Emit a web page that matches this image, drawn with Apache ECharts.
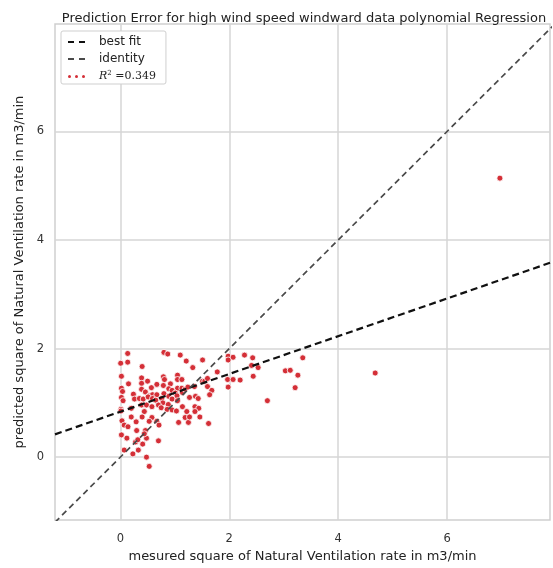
<!DOCTYPE html>
<html><head><meta charset="utf-8">
<script src="https://cdn.jsdelivr.net/npm/echarts@6/dist/echarts.min.js"></script>
<style>html,body{margin:0;padding:0;background:#fff}#c{width:553px;height:568px}</style>
</head><body><div id="c"></div>
<script>
const titleText = 'Prediction Error for high wind speed windward data polynomial Regression';
const xAxisName = 'mesured square of Natural Ventilation rate in m3/min';
const yAxisName = 'predicted square of Natural Ventilation rate in m3/min';
const xTicks = [0, 2, 4, 6];
const yTicks = [0, 2, 4, 6];
const xRange = [-1.2, 7.89];
const yRange = [-1.16, 7.98];
const measured = [
0.135,0.80,0.87,1.10,0.006,0.135,0.40,1.21,1.51,1.33,1.98,2.07,1.98,
0.02,0.15,0.39,0.50,0.39,0.79,0.81,1.05,1.05,1.13,0.92,0.67,0.79,1.05,1.13,0.02,0.04,0.24,0.39,0.57,0.46,0.53,0.59,0.67,0.80,0.89,0.95,1.01,1.04,1.14,1.19,1.24,1.36,1.51,1.55,1.60,1.78,1.60,1.68,1.98,1.97,2.07,
0.02,0.05,0.26,0.35,0.42,0.51,0.59,0.65,0.76,0.89,0.95,0.78,0.88,1.05,1.27,1.38,1.43,1.64,
0.01,0.01,0.20,0.39,0.48,0.58,0.70,0.75,0.86,0.95,1.03,1.14,1.22,1.37,1.44,0.44,0.40,0.20,0.58,0.67,0.71,1.07,1.19,1.25,1.27,1.46,1.37,1.62,
0.03,0.07,0.29,0.30,0.02,0.12,0.28,0.32,0.41,0.48,0.70,0.46,0.53,
0.07,0.23,0.33,0.48,0.53,0.44,0.14,
2.28,2.43,2.41,2.53,2.44,2.20,3.03,3.12,3.26,3.21,3.35,2.70,4.68,6.97
];
const predicted = [
1.91,1.93,1.90,1.88,1.73,1.75,1.67,1.77,1.79,1.65,1.86,1.84,1.79,
1.49,1.35,1.46,1.40,1.36,1.48,1.43,1.51,1.43,1.43,1.35,1.34,1.32,1.27,1.27,1.27,1.21,1.16,1.25,1.28,1.20,1.13,1.15,1.15,1.17,1.26,1.23,1.18,1.13,1.19,1.25,1.29,1.30,1.40,1.40,1.45,1.57,1.30,1.23,1.29,1.43,1.43,
1.10,1.04,1.07,1.08,1.07,1.11,1.08,1.05,1.08,1.12,1.07,1.00,0.97,1.04,1.10,1.12,1.08,1.15,
0.88,0.85,0.90,0.96,0.96,0.93,0.96,0.91,0.88,0.87,0.85,0.93,0.84,0.93,0.90,0.84,0.74,0.74,0.73,0.66,0.59,0.64,0.73,0.64,0.74,0.74,0.84,0.62,
0.67,0.59,0.65,0.49,0.41,0.35,0.28,0.32,0.24,0.35,0.30,0.49,0.66,
0.13,0.06,0.13,0.00,-0.17,0.43,0.56,
1.88,1.83,1.69,1.65,1.49,1.42,1.59,1.60,1.51,1.28,1.83,1.04,1.55,5.14
];
const bestFitX = [-1.2, 7.89];
const bestFitY = [0.42, 3.58];
const identityXY = [-1.2, 7.98];
const r2Text = '0.349';

const scatterData = measured.map((v, i) => [v, predicted[i]]);
const bestFitData = bestFitX.map((v, i) => [v, bestFitY[i]]);
const identityData = identityXY.map(v => [v, v]);

const FONT = 'DejaVu Sans';
const dotsIcon = 'path://M0,1.5a1.5,1.5 0 1,0 3,0a1.5,1.5 0 1,0 -3,0zM7,1.5a1.5,1.5 0 1,0 3,0a1.5,1.5 0 1,0 -3,0zM14,1.5a1.5,1.5 0 1,0 3,0a1.5,1.5 0 1,0 -3,0z';
const dashIcon = 'path://M0,0h6v2.2h-6zM11,0h6v2.2h-6z';

const chart = echarts.init(document.getElementById('c'), null, {renderer: 'canvas'});
chart.setOption({
  animation: false,
  backgroundColor: '#fff',
  title: {
    text: titleText, left: 299, top: 7, textAlign: 'center',
    textStyle: {fontFamily: FONT, fontSize: 13, fontWeight: 'normal', color: '#222'}
  },
  grid: {left: 55, top: 24, right: 3, bottom: 44.5, show: true, borderColor: '#cfcfcf', borderWidth: 1.5, backgroundColor: '#fff'},
  xAxis: {
    type: 'value', min: xRange[0], max: xRange[1],
    name: xAxisName, nameLocation: 'middle', nameGap: 27,
    nameTextStyle: {fontFamily: FONT, fontSize: 13, color: '#222'},
    axisLine: {show: false}, axisTick: {show: false, customValues: xTicks},
    axisLabel: {customValues: xTicks, margin: 13, fontFamily: FONT, fontSize: 11.5, color: '#333'},
    splitLine: {show: true, lineStyle: {color: '#d6d6d6', width: 1.5}}
  },
  yAxis: {
    type: 'value', min: yRange[0], max: yRange[1],
    name: yAxisName, nameLocation: 'middle', nameGap: 25,
    nameTextStyle: {fontFamily: FONT, fontSize: 13, color: '#222'},
    axisLine: {show: false}, axisTick: {show: false, customValues: yTicks},
    axisLabel: {customValues: yTicks, margin: 11, fontFamily: FONT, fontSize: 11.5, color: '#333'},
    splitLine: {show: true, lineStyle: {color: '#d6d6d6', width: 1.5}}
  },
  legend: {
    orient: 'vertical', left: 61, top: 31,
    padding: [5, 10, 2, 7], itemGap: 5, itemWidth: 17, itemHeight: 14,
    backgroundColor: '#fff', borderColor: '#cfcfcf', borderWidth: 1, borderRadius: 2,
    textStyle: {fontFamily: FONT, fontSize: 12, color: '#222', padding: [0, 0, 0, 9],
      rich: {
        i: {fontFamily: 'DejaVu Serif', fontStyle: 'italic', fontSize: 11, color: '#222'},
        s: {fontFamily: 'DejaVu Serif', fontSize: 7, color: '#222', padding: [0,0,6,0]},
        n: {fontFamily: 'DejaVu Serif', fontSize: 11, color: '#222'}
      }
    },
    formatter: function (name) {
      if (name === 'R2') return '{i|R}{s|2}{n| =' + r2Text + '}';
      return name;
    },
    data: [
      {name: 'best fit', icon: dashIcon, itemStyle: {color: '#111', borderWidth: 0}},
      {name: 'identity', icon: dashIcon, itemStyle: {color: '#4a4a4a', borderWidth: 0}},
      {name: 'R2', icon: dotsIcon, itemStyle: {color: '#d42f37', borderWidth: 0}}
    ]
  },
  series: [
    {
      name: 'R2', type: 'scatter', data: scatterData, symbol: 'circle', symbolSize: 6, z: 3,
      itemStyle: {color: '#d42f37', borderColor: '#fff', borderWidth: 0.8, opacity: 1}
    },
    {
      name: 'best fit', type: 'line', data: bestFitData, symbol: 'none', z: 4, clip: true,
      itemStyle: {color: '#111'},
      lineStyle: {color: '#111', width: 2.2, type: [7, 4]}
    },
    {
      name: 'identity', type: 'line', data: identityData, symbol: 'none', z: 4, clip: true,
      itemStyle: {color: '#4a4a4a'},
      lineStyle: {color: '#4a4a4a', width: 1.7, type: [6, 4]}
    }
  ]
});
</script></body></html>
